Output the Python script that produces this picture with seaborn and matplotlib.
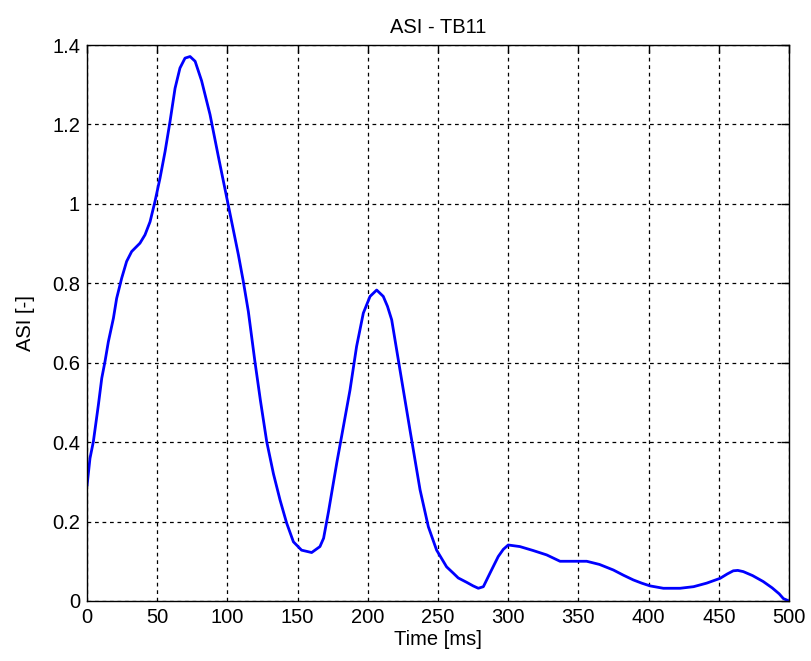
import matplotlib
matplotlib.use("Agg")
import matplotlib.pyplot as plt
import seaborn as sns
import pandas as pd

time_ms = [0, 2.1, 4.5, 8.1, 10.5, 12.8, 15.2, 18.8, 21.1, 24.7, 28.2, 31.8, 37.7,
           41.3, 44.9, 48.4, 52, 55.6, 59.1, 62.7, 66.2, 69.8, 73.4, 77, 81.6, 87.6,
           93.5, 100.6, 107.8, 111.3, 114.9, 119.5, 123.5, 128, 132.8, 137.5, 142.2,
           147, 152.8, 160, 165.9, 168.5, 172, 175.4, 178, 181.3, 187.3, 192, 196.8,
           201.6, 206.3, 211, 214, 217, 222.9, 230, 237.2, 243.1, 249, 256.1, 260.9,
           264.4, 270.4, 275, 278.7, 282.3, 287, 292.9, 296.5, 300, 308.3, 317.8,
           327.4, 336.9, 345, 355.9, 365, 374.9, 382, 389.1, 395, 401, 410.5, 422.4,
           432, 441.4, 450.9, 456, 460.3, 463.5, 467.4, 474, 481.6, 488, 493, 496, 500]
asi = [0.29, 0.359, 0.401, 0.494, 0.561, 0.603, 0.653, 0.712, 0.762, 0.813, 0.855,
       0.88, 0.901, 0.922, 0.955, 1.006, 1.065, 1.132, 1.207, 1.291, 1.342, 1.367,
       1.371, 1.359, 1.31, 1.225, 1.12, 0.997, 0.872, 0.805, 0.729, 0.605, 0.505,
       0.401, 0.32, 0.254, 0.196, 0.149, 0.128, 0.122, 0.137, 0.158, 0.225, 0.296,
       0.35, 0.414, 0.531, 0.641, 0.725, 0.767, 0.783, 0.767, 0.742, 0.708, 0.582,
       0.431, 0.28, 0.187, 0.128, 0.086, 0.07, 0.058, 0.047, 0.038, 0.032, 0.036,
       0.07, 0.112, 0.13, 0.141, 0.137, 0.127, 0.116, 0.10, 0.10, 0.10, 0.092,
       0.078, 0.065, 0.053, 0.045, 0.038, 0.032, 0.032, 0.036, 0.045, 0.057, 0.068,
       0.076, 0.077, 0.074, 0.064, 0.049, 0.033, 0.018, 0.006, 0.0]

title = "ASI - TB11"
xlabel = "Time [ms]"
ylabel = "ASI [-]"

sns.set_style("white")
plt.rcParams['font.family'] = ['Liberation Sans', 'DejaVu Sans']
plt.rcParams['text.color'] = 'black'
plt.rcParams['axes.labelcolor'] = 'black'

df = pd.DataFrame({"t": time_ms, "asi": asi})

fig = plt.figure(figsize=(8.11, 6.61), dpi=100)
ax = fig.add_axes([0.1073, 0.0908, 0.8656, 0.8411])
sns.lineplot(data=df, x="t", y="asi", ax=ax, color="#0000ff", linewidth=2.0,
             sort=False, estimator=None)

ax.set_xlim(0, 500)
ax.set_ylim(0, 1.4)
ax.set_xticks(range(0, 501, 50))
ax.set_yticks([0, 0.2, 0.4, 0.6, 0.8, 1.0, 1.2, 1.4])
ax.set_yticklabels(["0", "0.2", "0.4", "0.6", "0.8", "1", "1.2", "1.4"])
ax.grid(True, color="black", linestyle=(0, (3, 3)), linewidth=0.9)
ax.set_axisbelow(True)
for s in ax.spines.values():
    s.set_visible(True)
    s.set_color("black")
    s.set_linewidth(1.0)
ax.tick_params(direction="in", top=True, right=True, length=6, width=1,
               labelsize=14.5, colors="black", pad=5)
ax.set_title(title, fontsize=14.5, pad=9, color="black")
ax.set_xlabel(xlabel, fontsize=14.5, labelpad=2, color="black")
ax.set_ylabel(ylabel, fontsize=14.5, labelpad=12, color="black")

fig.savefig("out.png", dpi=100, facecolor="white")
